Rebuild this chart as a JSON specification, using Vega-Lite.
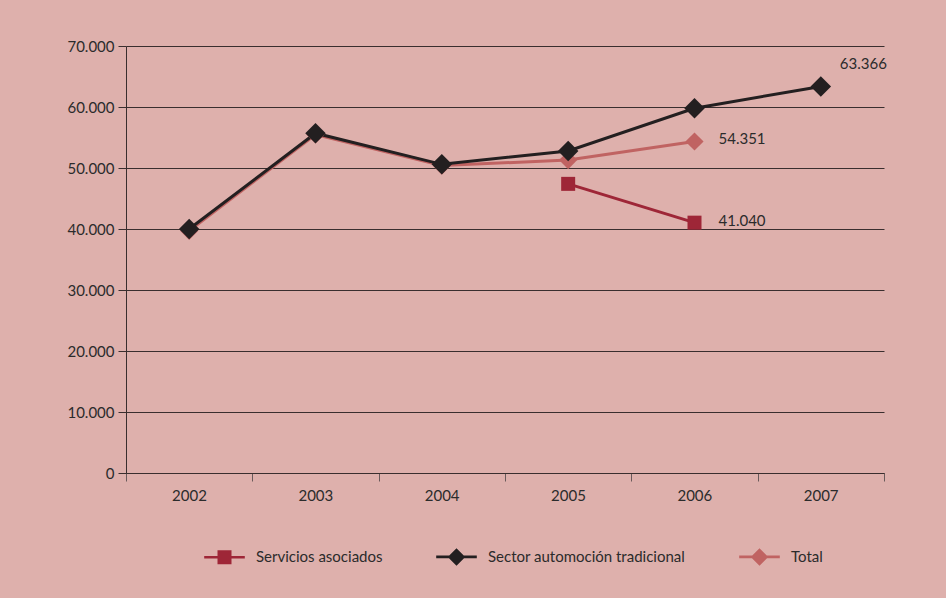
{
  "$schema": "https://vega.github.io/schema/vega-lite/v6.json",
  "width": 758,
  "height": 427,
  "autosize": {"type": "none"},
  "padding": {"left": 126, "top": 46, "right": 62, "bottom": 125},
  "background": "#DEB0AC",
  "config": {
    "font": "Lato",
    "view": {"stroke": null}
  },
  "data": {
    "values": [
      {"year": 2002, "series": "Total", "value": 39700},
      {"year": 2003, "series": "Total", "value": 55500},
      {"year": 2004, "series": "Total", "value": 50400},
      {"year": 2005, "series": "Total", "value": 51300},
      {"year": 2006, "series": "Total", "value": 54351, "label": "54.351"},
      {"year": 2005, "series": "Servicios asociados", "value": 47400},
      {"year": 2006, "series": "Servicios asociados", "value": 41040, "label": "41.040"},
      {"year": 2002, "series": "Sector automoción tradicional", "value": 40000},
      {"year": 2003, "series": "Sector automoción tradicional", "value": 55700},
      {"year": 2004, "series": "Sector automoción tradicional", "value": 50600},
      {"year": 2005, "series": "Sector automoción tradicional", "value": 52800},
      {"year": 2006, "series": "Sector automoción tradicional", "value": 59800},
      {"year": 2007, "series": "Sector automoción tradicional", "value": 63366, "label": "63.366"}
    ]
  },
  "encoding": {
    "x": {
      "field": "year",
      "type": "quantitative",
      "scale": {"domain": [2001.5, 2007.5], "nice": false, "zero": false},
      "axis": {
        "title": null,
        "values": [2001.5, 2002.5, 2003.5, 2004.5, 2005.5, 2006.5, 2007.5],
        "labelExpr": "datum.value > 2007 ? '' : toString(floor(datum.value) + 1)",
        "labelOffset": 63,
        "labelFlush": false,
        "labelOverlap": false,
        "tickSize": 8,
        "tickColor": "#6a5a5a",
        "domainColor": "#3a2e2e",
        "grid": false,
        "labelPadding": 7,
        "labelFontSize": 15,
        "labelColor": "#2b2b2b"
      }
    },
    "y": {
      "field": "value",
      "type": "quantitative",
      "scale": {"domain": [0, 70000], "nice": false},
      "axis": {
        "title": null,
        "values": [0, 10000, 20000, 30000, 40000, 50000, 60000, 70000],
        "labelExpr": "datum.value == 0 ? '0' : toString(datum.value / 1000) + '.000'",
        "grid": true,
        "gridColor": "#3a2e2e",
        "gridOpacity": 1,
        "tickSize": 8,
        "tickColor": "#3a2e2e",
        "domainColor": "#3a2e2e",
        "labelPadding": 4,
        "labelFontSize": 15,
        "labelColor": "#2b2b2b"
      }
    }
  },
  "layer": [
    {
      "mark": {"type": "line", "strokeWidth": 3},
      "encoding": {
        "color": {
          "field": "series",
          "type": "nominal",
          "scale": {
            "domain": ["Servicios asociados", "Sector automoción tradicional", "Total"],
            "range": ["#9E2637", "#231F20", "#C06362"]
          },
          "legend": {
            "orient": "none",
            "legendX": 91,
            "legendY": 503,
            "direction": "horizontal",
            "title": null,
            "symbolSize": 196,
            "labelFontSize": 15,
            "labelColor": "#2b2b2b",
            "labelLimit": 400,
            "labelOffset": 24,
            "columnPadding": 53,
            "encode": {
              "symbols": {
                "update": {
                  "shape": {"signal": "datum.value === 'Servicios asociados' ? 'M-2.9,-0.18H2.9V0.18H-2.9Z M-1,-1H1V1H-1Z' : 'M-2.9,-0.18H2.9V0.18H-2.9Z M0,-1.25L1.25,0L0,1.25L-1.25,0Z'"},
                  "fill": {"scale": "color", "field": "value"},
                  "fillOpacity": {"value": 1},
                  "strokeWidth": {"value": 0}
                }
              }
            }
          }
        }
      }
    },
    {
      "transform": [{"filter": "datum.series == 'Total'"}],
      "mark": {"type": "point", "filled": true, "opacity": 1, "shape": "diamond", "size": 330},
      "encoding": {"color": {"field": "series", "type": "nominal", "legend": null}}
    },
    {
      "transform": [{"filter": "datum.series == 'Servicios asociados'"}],
      "mark": {"type": "point", "filled": true, "opacity": 1, "shape": "square", "size": 196},
      "encoding": {"color": {"field": "series", "type": "nominal", "legend": null}}
    },
    {
      "transform": [{"filter": "datum.series == 'Sector automoción tradicional'"}],
      "mark": {"type": "point", "filled": true, "opacity": 1, "shape": "diamond", "size": 420},
      "encoding": {"color": {"field": "series", "type": "nominal", "legend": null}}
    },
    {
      "transform": [{"filter": "datum.label && datum.year < 2007"}],
      "mark": {"type": "text", "align": "left", "baseline": "middle", "dx": 24, "dy": -2, "fontSize": 15, "color": "#2b2b2b"},
      "encoding": {"text": {"field": "label"}}
    },
    {
      "transform": [{"filter": "datum.label && datum.year == 2007"}],
      "mark": {"type": "text", "align": "left", "baseline": "middle", "dx": 19, "dy": -22, "fontSize": 15, "color": "#2b2b2b"},
      "encoding": {"text": {"field": "label"}}
    }
  ]
}
